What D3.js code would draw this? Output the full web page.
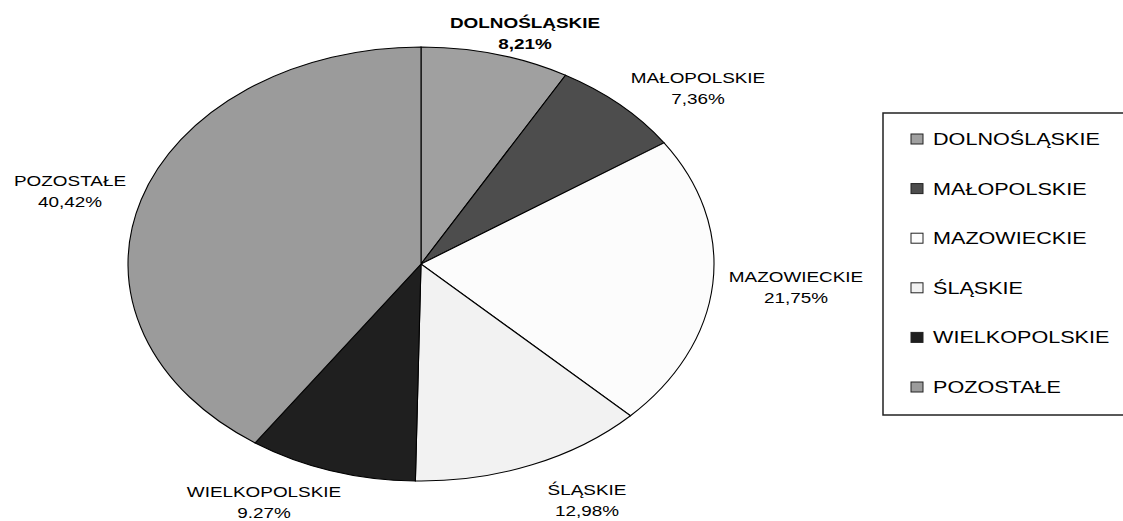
<!DOCTYPE html>
<html lang="pl">
<head>
<meta charset="utf-8">
<title>Udział województw</title>
<script src="https://cdn.jsdelivr.net/npm/d3@7"></script>
<style>
  body { margin: 0; background: #fff; }
  text { font-family: "Liberation Sans", Arial, sans-serif; fill: #000; }
</style>
</head>
<body>
<div id="chart"></div>
<script>
// data
const regions = ["DOLNOŚLĄSKIE", "MAŁOPOLSKIE", "MAZOWIECKIE", "ŚLĄSKIE", "WIELKOPOLSKIE", "POZOSTAŁE"];
const shares = [8.21, 7.36, 21.75, 12.98, 9.27, 40.42];
const shareLabels = ["8,21%", "7,36%", "21,75%", "12,98%", "9.27%", "40,42%"];
const fills = ["#a0a0a0", "#4d4d4d", "#fcfcfc", "#f2f2f2", "#1f1f1f", "#9b9b9b"];

const w = 1123, h = 521;
const sx = 1.35;            // the whole chart is stretched sideways
const cx = 421, cy = 264, ry = 217, rx = 293;

// where each label sits (centre x, first baseline)
const labelPos = [[525, 28], [698, 83], [796, 282], [587, 495], [264, 497], [70, 186]];

const svg = d3.select("#chart").append("svg")
  .attr("width", w)
  .attr("height", h);

const pie = d3.pie().sort(null).value(d => d.v);
const arcs = pie(regions.map((r, i) => ({ name: r, v: shares[i], i: i })));

const arc = d3.arc().innerRadius(0).outerRadius(ry);

svg.append("g")
  .attr("transform", `translate(${cx},${cy}) scale(${rx / ry},1)`)
  .selectAll("path")
  .data(arcs)
  .enter()
  .append("path")
    .attr("d", arc)
    .attr("fill", d => fills[d.data.i])
    .attr("stroke", "#000")
    .attr("stroke-width", 1.1)
    .attr("vector-effect", "non-scaling-stroke");

// slice labels
const lab = svg.append("g").selectAll("g")
  .data(arcs)
  .enter()
  .append("g")
    .attr("transform", d => `translate(${labelPos[d.data.i][0]},${labelPos[d.data.i][1]}) scale(${sx},1)`);

lab.append("text")
  .attr("text-anchor", "middle")
  .attr("font-size", 14)
  .attr("font-weight", d => d.data.i === 0 ? "bold" : "normal")
  .text(d => d.data.name);

lab.append("text")
  .attr("text-anchor", "middle")
  .attr("y", 21)
  .attr("font-size", 14)
  .attr("font-weight", d => d.data.i === 0 ? "bold" : "normal")
  .text(d => shareLabels[d.data.i]);

// legend
const legX = 883, legTop = 113, legBottom = 415;
svg.append("rect")
  .attr("x", legX)
  .attr("y", legTop)
  .attr("width", w - legX + 10)
  .attr("height", legBottom - legTop)
  .attr("fill", "none")
  .attr("stroke", "#222")
  .attr("stroke-width", 1.5);

const rowY = d3.scalePoint().domain(regions).range([139, 387]);

const leg = svg.append("g").selectAll("g")
  .data(regions)
  .enter()
  .append("g")
    .attr("transform", d => `translate(${legX + 28},${rowY(d)})`);

leg.append("rect")
  .attr("x", 0)
  .attr("y", -5)
  .attr("width", 12)
  .attr("height", 10)
  .attr("fill", (d, i) => fills[i])
  .attr("stroke", "#222")
  .attr("stroke-width", 1);

leg.append("text")
  .attr("transform", `translate(22,6) scale(${sx},1)`)
  .attr("font-size", 16)
  .text(d => d);
</script>
</body>
</html>
